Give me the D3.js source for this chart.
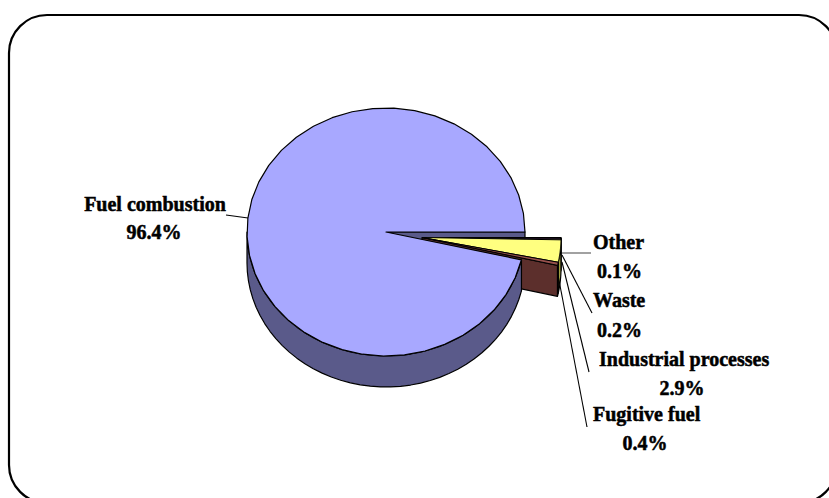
<!DOCTYPE html>
<html><head><meta charset="utf-8">
<script src="https://cdn.jsdelivr.net/npm/d3@7"></script>
<style>html,body{margin:0;padding:0;background:#fff}svg{display:block}</style></head>
<body><svg id="c" width="829" height="498"></svg>
<script>
const categories=["Other","Waste","Industrial processes","Fugitive fuel","Fuel combustion"];
const values=[0.1,0.2,2.9,0.4,96.4];
const percentLabels=["0.1%","0.2%","2.9%","0.4%","96.4%"];
const topColors=["#e08a8a","#3a1c40","#ffff80","#96504c","#a8a8ff"];
const sideColors=["#80405a","#201020","#a0a040","#5c2f2c","#5a5a8a"];

const W=829,H=498,rx=139,ry=124,depth=31;
const mainC=[386,232], expC=[422,237.5];
const svg=d3.select("#c");
svg.append("path").attr("fill","#fff").attr("stroke","#000").attr("stroke-width",2.2)
 .attr("d",(()=>{const p=d3.path();const x0=9,y0=15,x1=837,y1=503,r=38;
  p.moveTo(x0+r,y0);p.lineTo(x1-r,y0);p.arcTo(x1,y0,x1,y0+r,r);p.lineTo(x1,y1-r);p.arcTo(x1,y1,x1-r,y1,r);p.lineTo(x0+r,y1);p.arcTo(x0,y1,x0,y1-r,r);p.lineTo(x0,y0+r);p.arcTo(x0,y0,x0+r,y0,r);p.closePath();return p.toString();})());

const pie=d3.pie().sort(null).startAngle(Math.PI/2).endAngle(Math.PI/2+2*Math.PI);
const arcs=pie(values);
const pt=(c,a,dy=0)=>[c[0]+rx*Math.sin(a),c[1]-ry*Math.cos(a)+dy];
const samples=(a0,a1)=>d3.range(0,41).map(i=>a0+(a1-a0)*i/40);
const line=d3.line();
function topPath(c,d){return line([c,...samples(d.startAngle,d.endAngle).map(a=>pt(c,a))])+"Z";}
function bandPath(c,a0,a1){const s=samples(a0,a1);return line([...s.map(a=>pt(c,a)),...s.slice().reverse().map(a=>pt(c,a,depth))])+"Z";}
function wallPath(c,a){const p=pt(c,a);return line([c,p,[p[0],p[1]+depth],[c[0],c[1]+depth]])+"Z";}
const stroke=(s,w=1.2)=>s.attr("stroke","#000").attr("stroke-width",w).attr("stroke-linejoin","round");

const main=arcs[4];
stroke(svg.append("path").attr("d",wallPath(mainC,main.endAngle)).attr("fill",sideColors[4]));
const small=arcs.slice(0,4);
small.forEach((d,i)=>{
 stroke(svg.append("path").attr("d",bandPath(expC,d.startAngle,d.endAngle)).attr("fill",sideColors[i]));
});
stroke(svg.append("path").attr("d",wallPath(expC,small[3].endAngle)).attr("fill",sideColors[3]));
stroke(svg.append("path").attr("d",bandPath(mainC,main.startAngle,Math.PI*1.5+0.0001)).attr("fill",sideColors[4]));
stroke(svg.append("path").attr("d",topPath(mainC,main)).attr("fill",topColors[4]));
small.forEach((d,i)=>{
 stroke(svg.append("path").attr("d",topPath(expC,d)).attr("fill",topColors[i]),i==1?0.8:1);
});

const labelLayout=[
 {i:0,from:[562,253],to:[591,253],lines:[[593,249,"start",0],[597,278,"start",1]]},
 {i:1,from:[562,255],to:[592,313],lines:[[593,307,"start",0],[597,337,"start",1]]},
 {i:2,from:[562,262],to:[589,372],lines:[[599,366,"start",0],[682,395,"middle",1]]},
 {i:3,from:[558,275],to:[587,427],lines:[[593,421,"start",0],[645,450,"middle",1]]},
 {i:4,from:[226,215],to:[248,218],lines:[[155,211,"middle",0],[154,239,"middle",1]]}
];
labelLayout.forEach(l=>{
 svg.append("line").attr("x1",l.from[0]).attr("y1",l.from[1]).attr("x2",l.to[0]).attr("y2",l.to[1]).attr("stroke",l.i==0?"#555":"#000").attr("stroke-width",1.1);
 l.lines.forEach(t=>{
  svg.append("text").attr("x",t[0]).attr("y",t[1]).attr("text-anchor",t[2])
   .attr("font-family","'Liberation Serif','Times New Roman',serif").attr("font-weight","bold")
   .attr("font-size",20).attr("fill","#000").attr("stroke","#000").attr("stroke-width",0.5)
   .text(t[3]==0?categories[l.i]:percentLabels[l.i]);
 });
});
</script></body></html>
